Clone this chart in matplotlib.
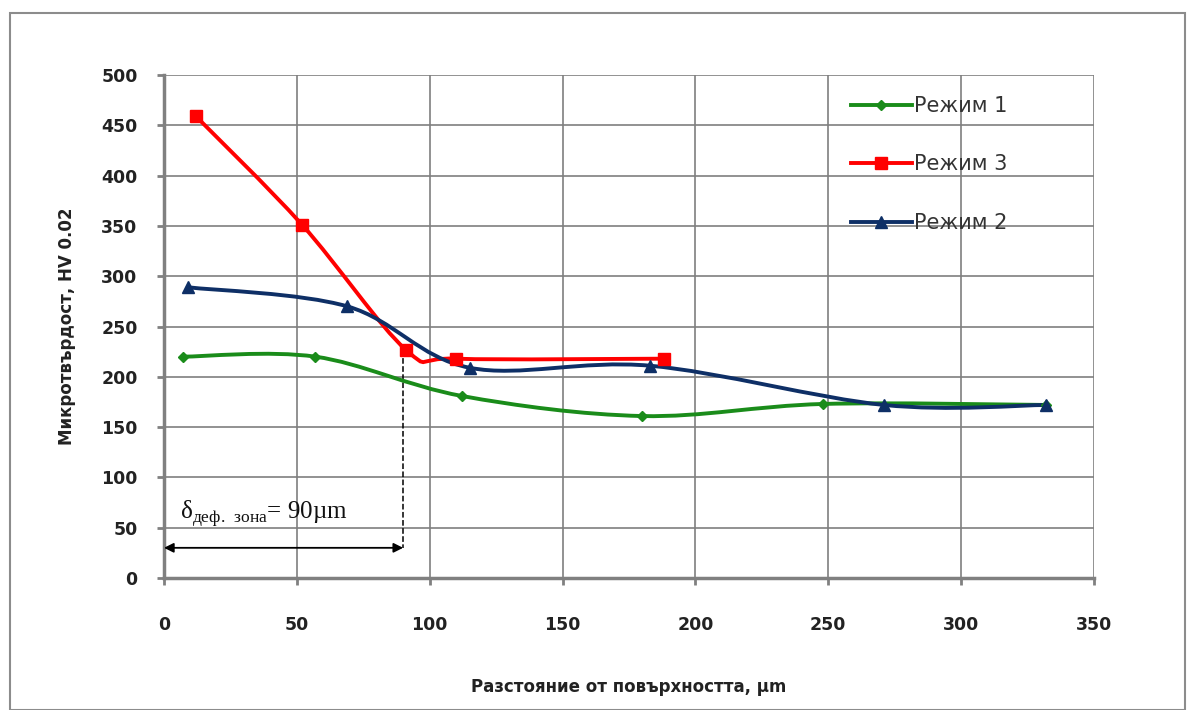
import matplotlib
matplotlib.use('Agg')

from matplotlib import pyplot as plt
from matplotlib.path import Path
from matplotlib.patches import PathPatch, Rectangle

mode1_x = [7, 57, 112, 180, 248, 332]
mode1_y = [220, 220, 181, 161, 173, 172]

mode3_x = [12, 52, 91, 110, 188]
mode3_y = [459, 351, 227, 218, 218]

mode2_x = [9, 69, 115, 183, 271, 332]
mode2_y = [289, 270, 209, 211, 172, 172]

zone_depth = 90
x_ticks = [0, 50, 100, 150, 200, 250, 300, 350]
y_ticks = [0, 50, 100, 150, 200, 250, 300, 350, 400, 450, 500]


def smooth_path(xs, ys):
    # Bezier path through the points, same idea as the smoothed line in a spreadsheet
    pts = list(zip(xs, ys))
    verts = [pts[0]]
    codes = [Path.MOVETO]
    n = len(pts)
    for i in range(n - 1):
        p0 = pts[i - 1] if i > 0 else pts[i]
        p1 = pts[i]
        p2 = pts[i + 1]
        p3 = pts[i + 2] if i + 2 < n else pts[i + 1]
        c1 = (p1[0] + (p2[0] - p0[0]) / 6.0, p1[1] + (p2[1] - p0[1]) / 6.0)
        c2 = (p2[0] - (p3[0] - p1[0]) / 6.0, p2[1] - (p3[1] - p1[1]) / 6.0)
        verts += [c1, c2, p2]
        codes += [Path.CURVE4] * 3
    return Path(verts, codes)


fig = plt.figure(figsize=(11.9, 7.1), dpi=100)
fig.patches.append(Rectangle((10 / 1190, 0), 1175 / 1190, 697 / 710, transform=fig.transFigure,
                             fill=False, edgecolor='#8c8c8c', linewidth=1.5))
ax = fig.add_axes([164 / 1190, 1 - 578 / 710, 930 / 1190, 503 / 710])

series = [
    ('Режим 1', mode1_x, mode1_y, '#1a8c1a', 'D', 5),
    ('Режим 3', mode3_x, mode3_y, '#ff0000', 's', 8),
    ('Режим 2', mode2_x, mode2_y, '#0e2f66', '^', 8),
]
for name, xs, ys, color, marker, ms in series:
    ax.add_patch(PathPatch(smooth_path(xs, ys), facecolor='none', edgecolor=color,
                           linewidth=2.8, zorder=3))
    ax.plot(xs, ys, linestyle='none', marker=marker, markersize=ms, color=color, zorder=4)
    # legend handle only
    ax.plot([], [], color=color, linewidth=2.8, marker=marker, markersize=ms, label=name)

ax.set_xlim(0, 350)
ax.set_ylim(0, 500)
ax.set_xticks(x_ticks)
ax.set_yticks(y_ticks)
ax.grid(True, color='#7f7f7f', linewidth=1.2)
ax.set_axisbelow(True)
for side in ['top', 'right']:
    ax.spines[side].set_visible(False)
for side in ['left', 'bottom']:
    ax.spines[side].set_color('#808080')
    ax.spines[side].set_linewidth(2.5)
ax.tick_params(axis='both', colors='#808080', width=2, length=5, labelcolor='#222222',
               labelsize=12.5)
ax.tick_params(axis='x', pad=22)
ax.tick_params(axis='y', pad=14)
for lbl in ax.get_xticklabels() + ax.get_yticklabels():
    lbl.set_fontweight('bold')
    lbl.set_fontfamily('DejaVu Sans')

ax.set_xlabel('Разстояние от повърхността, µm', fontsize=12, fontweight='bold',
              labelpad=32, color='#222222')
ax.set_ylabel('Микротвърдост, HV 0.02', fontsize=12, fontweight='bold',
              labelpad=18, color='#222222')

# depth of the deformed zone
ax.plot([zone_depth, zone_depth], [mode3_y[2], 30], color='black', linestyle='--',
        linewidth=1.1, zorder=2)
ax.annotate('', xy=(0, 30), xytext=(zone_depth, 30),
            arrowprops=dict(arrowstyle='<|-|>', color='black', linewidth=1.3,
                            mutation_scale=14, shrinkA=0, shrinkB=0))
ax.text(6, 64, r'δ$_{\mathregular{деф.\ зона}}$= 90µm', fontsize=18,
        family='Liberation Serif', va='center', ha='left', color='#111111')

leg = ax.legend(loc='upper left', bbox_to_anchor=(0.73, 0.975), frameon=False,
                fontsize=15, labelspacing=1.85, handlelength=2.9, handletextpad=0.1,
                borderaxespad=0)
for txt in leg.get_texts():
    txt.set_color('#333333')

fig.savefig('out.png', dpi=100)
